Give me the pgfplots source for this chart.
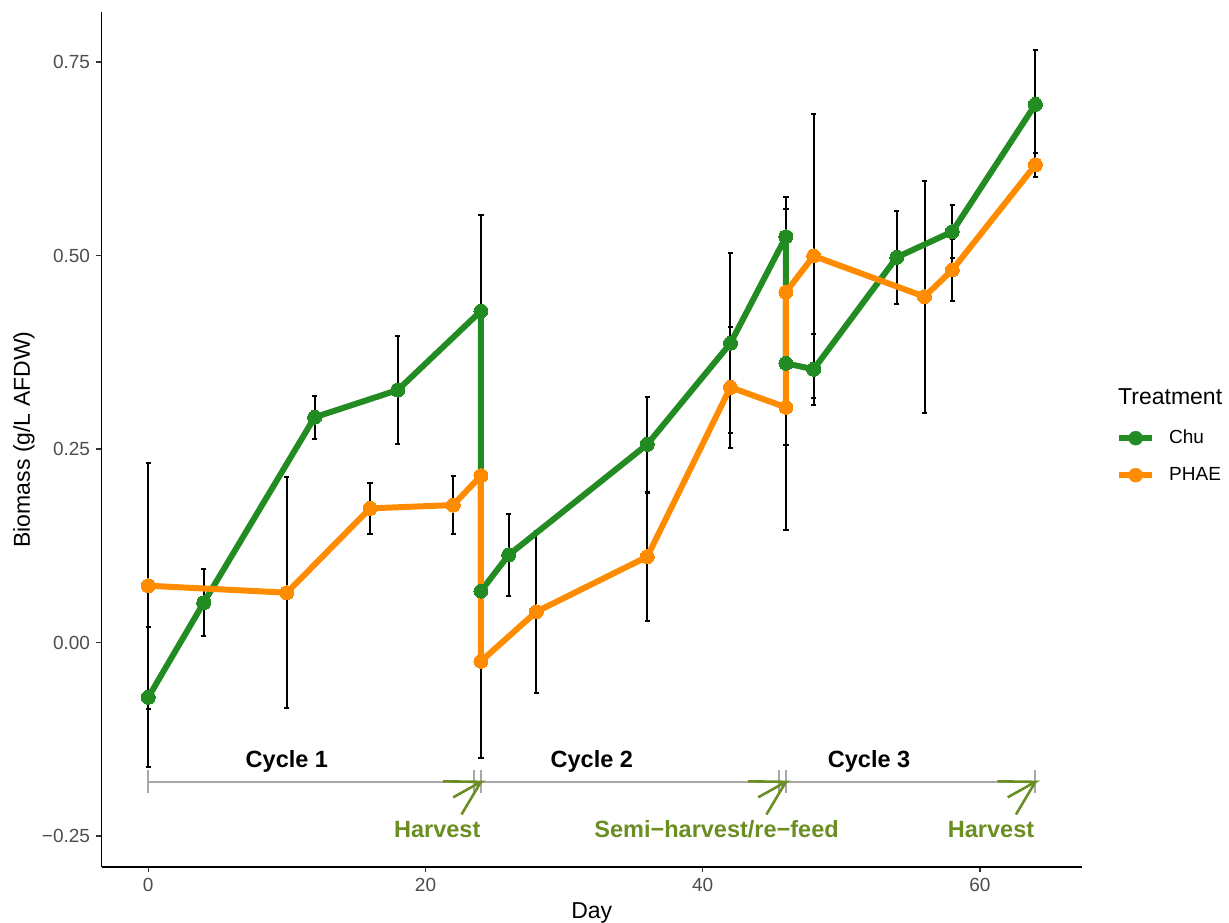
\documentclass[border=0pt]{standalone}
\usepackage{fontspec}
\setmainfont{Liberation Sans}
\usepackage{pgfplots}
\pgfplotsset{compat=1.18}
\usepackage{pgfplotstable}
\definecolor{chu}{HTML}{228B22}
\definecolor{phae}{HTML}{FF8C00}
\definecolor{olivec}{HTML}{6B8E23}
\definecolor{annogray}{HTML}{A8A8A8}
\definecolor{ticklab}{HTML}{4D4D4D}
\definecolor{tickcol}{HTML}{333333}

\pgfplotstableread{
x y e
0 -0.0708 0.0904
4 0.0515 0.0437
12 0.2910 0.0280
18 0.3262 0.0700
24 0.4283 0.1245
24 0.0665 0
26 0.1131 0.0534
36 0.2560 0.0614
42 0.3866 0.1163
46 0.5243 0.0517
46 0.3607 0.1055
48 0.3530 0.0462
54 0.4977 0.0603
58 0.5308 0.0345
64 0.6953 0.0702
}\chudata

\pgfplotstableread{
x y e
0 0.0734 0.1590
10 0.0644 0.1490
16 0.1733 0.0332
22 0.1776 0.0377
24 0.2155 0
24 -0.0242 0.1255
28 0.0398 0.1047
36 0.1109 0.0827
42 0.3297 0.0782
46 0.3039 0.1585
46 0.4528 0.1069
48 0.4994 0.1838
56 0.4468 0.1499
58 0.4813 0.0397
64 0.6170 0.0151
}\phaedata

\begin{document}
\begin{tikzpicture}
\path[use as bounding box] (0,0) rectangle (1229pt,923pt);
\begin{axis}[
  at={(101.7pt,56pt)}, anchor=south west,
  scale only axis, width=980pt, height=855pt,
  xmin=-3.36, xmax=67.34, ymin=-0.290, ymax=0.8146,
  axis x line*=bottom, axis y line*=left,
  axis line style={line width=1.4pt, black, -},
  xtick={0,20,40,60}, xticklabels={0,20,40,60},
  ytick={-0.25,0,0.25,0.5,0.75}, yticklabels={−0.25,0.00,0.25,0.50,0.75},
  tick align=outside, major tick length=5.5pt,
  tick style={line width=1.4pt, tickcol},
  ticklabel style={font=\fontsize{19}{22}\selectfont, text=ticklab},
  xticklabel style={anchor=north, inner sep=0pt, yshift=-6pt},
  yticklabel style={anchor=east, inner sep=0pt, xshift=-6pt},
  clip=false,
  xlabel={Day}, ylabel={Biomass (g/L AFDW)},
  label style={font=\fontsize{23}{27}\selectfont},
  xlabel style={at={(axis description cs:0.5,0)}, anchor=center, yshift=-46pt},
  ylabel style={at={([xshift=-77.7pt]axis description cs:0,0.5)}, anchor=center},
  legend style={at={(axis description cs:1.035,0.5123)}, anchor=north west, draw=none, fill=none,
    font=\fontsize{19}{22}\selectfont, row sep=19pt, inner sep=0pt,
    nodes={inner sep=0pt, text height=14pt, text depth=4pt}},
  legend cell align=left,
  legend image code/.code={\path[draw=none, fill=none] (0pt,0pt) -- (50pt,0pt); \draw[#1, line width=6pt] (0pt,0pt) -- (33pt,0pt); \fill[#1] (16.5pt,0pt) circle (7pt);},
]
% error bars
\addplot[forget plot, black, only marks, mark=none,
  error bars/.cd, y dir=both, y explicit, error mark=|,
  error bar style={draw=black, line width=2pt},
  error mark options={draw=black, line width=2pt, mark size=2.6pt}]
  table[x=x, y=y, y error=e] {\chudata};
\addplot[forget plot, black, only marks, mark=none,
  error bars/.cd, y dir=both, y explicit, error mark=|,
  error bar style={draw=black, line width=2pt},
  error mark options={draw=black, line width=2pt, mark size=2.6pt}]
  table[x=x, y=y, y error=e] {\phaedata};
% lines
\addplot[forget plot, chu, line width=6pt, line join=round, mark=none] table[x=x, y=y] {\chudata};
\addplot[forget plot, phae, line width=6pt, line join=round, mark=none] table[x=x, y=y] {\phaedata};
% points
\addplot[forget plot, chu, only marks, mark=*, mark size=7pt, mark options={draw=chu, fill=chu, line width=0pt}] table[x=x, y=y] {\chudata};
\addplot[forget plot, phae, only marks, mark=*, mark size=7pt, mark options={draw=phae, fill=phae, line width=0pt}] table[x=x, y=y] {\phaedata};
\addlegendimage{chu}\addlegendentry{Chu}
\addlegendimage{phae}\addlegendentry{PHAE}
% cycle annotations
\draw[annogray, line width=2pt] (axis cs:0,-0.18) -- (axis cs:23.5,-0.18);
\draw[annogray, line width=2pt] (axis cs:24,-0.18) -- (axis cs:45.5,-0.18);
\draw[annogray, line width=2pt] (axis cs:46,-0.18) -- (axis cs:64,-0.18);
\draw[annogray, line width=2pt] (axis cs:0,-0.195) -- (axis cs:0,-0.165);
\draw[annogray, line width=2pt] (axis cs:23.5,-0.195) -- (axis cs:23.5,-0.165);
\draw[annogray, line width=2pt] (axis cs:24,-0.195) -- (axis cs:24,-0.165);
\draw[annogray, line width=2pt] (axis cs:45.5,-0.195) -- (axis cs:45.5,-0.165);
\draw[annogray, line width=2pt] (axis cs:46,-0.195) -- (axis cs:46,-0.165);
\draw[annogray, line width=2pt] (axis cs:64,-0.195) -- (axis cs:64,-0.165);
\draw[olivec, line width=2.6pt] (axis cs:22,-0.2) -- (axis cs:24,-0.18) -- ++(179.2:38pt);
\draw[olivec, line width=2.6pt] (axis cs:24,-0.18) -- ++(239.2:38pt);
\draw[olivec, line width=2.6pt] (axis cs:44,-0.2) -- (axis cs:46,-0.18) -- ++(179.2:38pt);
\draw[olivec, line width=2.6pt] (axis cs:46,-0.18) -- ++(239.2:38pt);
\draw[olivec, line width=2.6pt] (axis cs:62,-0.2) -- (axis cs:64,-0.18) -- ++(179.2:38pt);
\draw[olivec, line width=2.6pt] (axis cs:64,-0.18) -- ++(239.2:38pt);
\node[anchor=base, inner sep=0pt, font=\fontsize{23.5}{28}\selectfont\bfseries] at (axis cs:10,-0.1615) {Cycle 1};
\node[anchor=base, inner sep=0pt, font=\fontsize{23.5}{28}\selectfont\bfseries] at (axis cs:32,-0.1615) {Cycle 2};
\node[anchor=base, inner sep=0pt, font=\fontsize{23.5}{28}\selectfont\bfseries] at (axis cs:52,-0.1615) {Cycle 3};
\node[anchor=base, inner sep=0pt, text=olivec, font=\fontsize{23.5}{28}\selectfont\bfseries] at (axis cs:20.85,-0.2519) {Harvest};
\node[anchor=base, inner sep=0pt, text=olivec, font=\fontsize{23.5}{28}\selectfont\bfseries] at (axis cs:41,-0.2519) {Semi−harvest/re−feed};
\node[anchor=base, inner sep=0pt, text=olivec, font=\fontsize{23.5}{28}\selectfont\bfseries] at (axis cs:60.8,-0.2519) {Harvest};
\end{axis}
\node[anchor=west, inner sep=0pt, font=\fontsize{23}{27}\selectfont] at (1118pt,526pt) {Treatment};
\end{tikzpicture}
\end{document}
